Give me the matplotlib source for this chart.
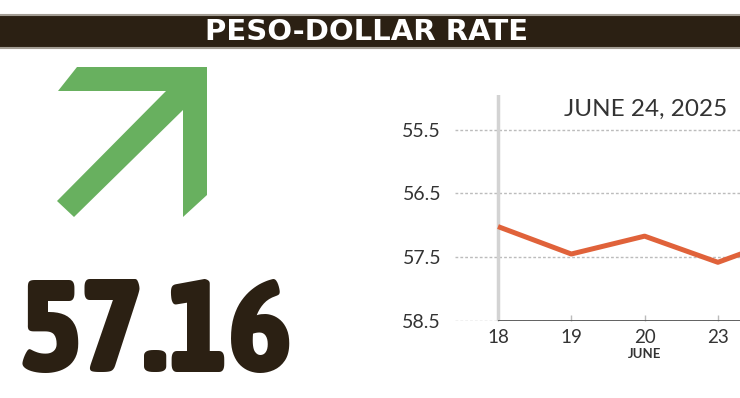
import numpy as np
import matplotlib.pyplot as plt
from matplotlib.patches import Polygon, Rectangle
from matplotlib.font_manager import FontProperties, fontManager

# data
days = ['18', '19', '20', '23', '24']
rates = [57.02, 57.45, 57.17, 57.58, 57.16]
yticks = [55.5, 56.5, 57.5, 58.5]
ylabels = ['55.5', '56.5', '57.5', '58.5']
month = 'JUNE'
title = 'PESO-DOLLAR RATE'
date_label = 'JUNE 24, 2025'
latest = '57.16'

W, H = 740, 398
DARK = '#2b2013'
GREEN = '#68b05f'
ORANGE = '#e0623a'

plt.rcParams['font.family'] = ['Lato', 'DejaVu Sans']


def narrow_bold_font():
    # look for the most condensed heavy face that is installed
    order = {'ultra-condensed': 0, 'extra-condensed': 1, 'condensed': 2,
             'semi-condensed': 3}
    best = None
    for f in fontManager.ttflist:
        st = f.stretch if isinstance(f.stretch, str) else 'normal'
        wt = f.weight
        if isinstance(wt, str):
            wt = {'bold': 700, 'heavy': 800, 'black': 900, 'extra bold': 800,
                  'semibold': 600, 'demibold': 600}.get(wt, 400)
        rank = order.get(st)
        if 'narrow' in f.name.lower():
            rank = 2
        if rank is None or wt < 600 or f.style != 'normal':
            continue
        key = (rank, -wt)
        if best is None or key < best[0]:
            best = (key, f.fname)
    if best:
        return FontProperties(fname=best[1])
    return FontProperties(family='DejaVu Sans', weight='bold')


fig = plt.figure(figsize=(W / 100, H / 100), dpi=100)

# background layer in pixel units for the banner and the arrow icon
bg = fig.add_axes([0, 0, 1, 1])
bg.set_xlim(0, W)
bg.set_ylim(H, 0)
bg.axis('off')
bg.add_patch(Rectangle((-2, 14.5), W + 4, 33.5, facecolor=DARK,
                       edgecolor='#a39d94', lw=1.5))
bg.text(367, 32, title, color='white', fontsize=21, fontweight='bold',
        family='DejaVu Sans', ha='center', va='center')

arrow_shape = [(77, 67), (207, 67), (207, 195), (183, 217), (183, 110),
               (74, 217), (57, 201), (166, 91), (58, 91)]
bg.add_patch(Polygon(arrow_shape, closed=True, facecolor=GREEN, edgecolor='none'))

# big latest value
fp = narrow_bold_font()
big = bg.text(156, 372, latest, ha='center', va='baseline', color=DARK,
              fontproperties=fp, fontsize=100)
r = fig.canvas.get_renderer()
w = big.get_window_extent(r).width
size = min(100 * 272 / w, 125 / (0.72 * 100 / 72))
big.set_fontsize(size)

# line chart, y inverted
px_x = 73.3
px_y = 63.8
ax = fig.add_axes([455 / W, 1 - 321 / H, 285 / W, 226 / H])
x = np.arange(len(days))
for s in ax.spines.values():
    s.set_visible(False)

for v in yticks:
    ax.axhline(v, color='#bcbcbc', lw=1, ls=(0, (2, 1.5)), zorder=1)
ax.axvline(0, color='#d3d3d3', lw=2.5, zorder=2)
ax.hlines(58.5, 0, len(days), color='#555555', lw=1.3, zorder=2)
ax.plot(x, rates, color=ORANGE, lw=3.6, zorder=3, solid_capstyle='butt')

ax.set_xticks(x, days)
ax.set_yticks(yticks, ylabels)
ax.set_xlim(-43 / px_x, (285 - 43) / px_x)
ax.set_ylim(58.5, 58.5 - 226 / px_y)
ax.tick_params(axis='x', direction='in', length=4, width=1, color='#bbbbbb',
               pad=6, labelsize=13.5, labelcolor='#333333')
ax.tick_params(axis='y', length=0, pad=10, labelsize=14, labelcolor='#333333')
ax.annotate(month, xy=(2, 58.5), xytext=(0, -19.5), textcoords='offset points',
            ha='center', va='top', fontsize=9.5, fontweight='bold',
            color='#333333', annotation_clip=False)

fig.text(646 / W, 1 - 109 / H, date_label, ha='center', va='center',
         fontsize=17.5, color='#333333')

fig.savefig('out.png', dpi=100)
